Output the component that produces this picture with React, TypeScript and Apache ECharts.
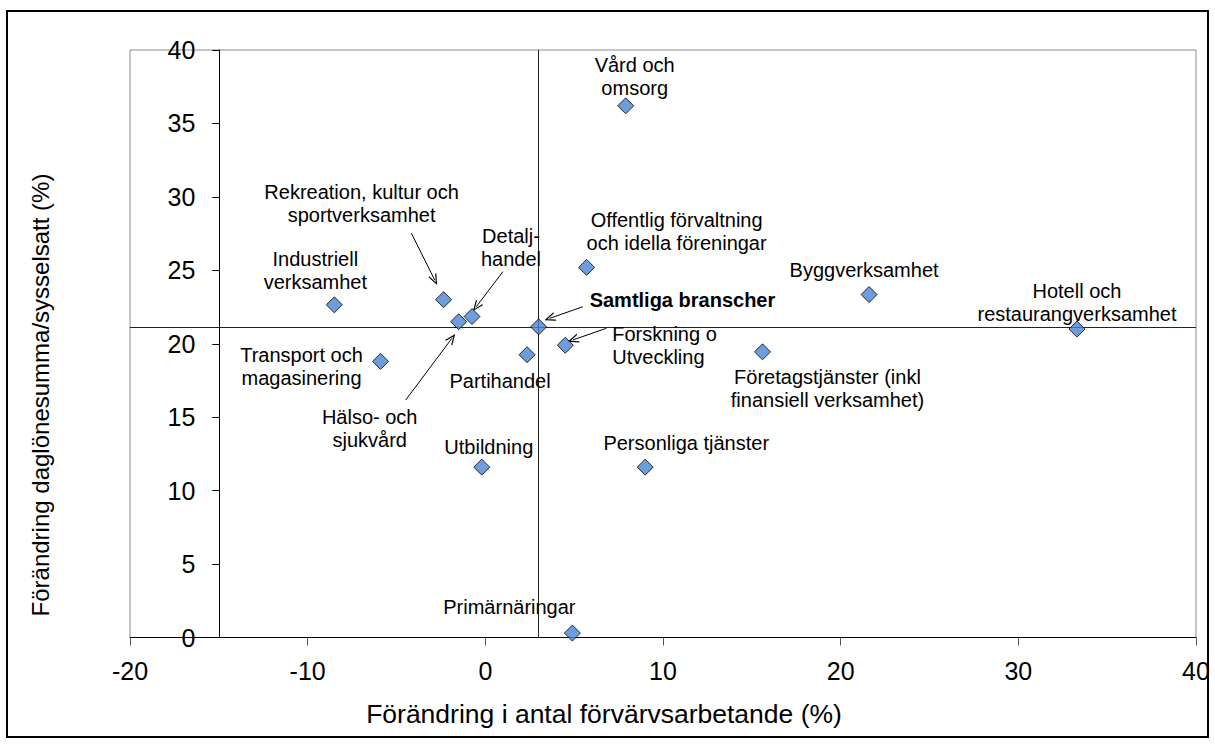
import React, { useEffect, useRef } from 'react';
import * as echarts from 'echarts';

// Branch names (label text), x = change in number employed (%), y = change in wage sum per employee (%)
const branches = [
  'Vård och\nomsorg',
  'Offentlig förvaltning\noch idella föreningar',
  'Samtliga branscher',
  'Forskning o\nUtveckling',
  'Byggverksamhet',
  'Hotell och\nrestaurangverksamhet',
  'Företagstjänster (inkl\nfinansiell verksamhet)',
  'Personliga tjänster',
  'Utbildning',
  'Primärnäringar',
  'Partihandel',
  'Transport och\nmagasinering',
  'Industriell\nverksamhet',
  'Rekreation, kultur och\nsportverksamhet',
  'Hälso- och\nsjukvård',
  'Detalj-\nhandel',
];
const employmentChange = [7.9, 5.7, 3.0, 4.5, 21.6, 33.3, 15.6, 9.0, -0.2, 4.9, 2.35, -5.9, -8.5, -2.35, -1.5, -0.75];
const wageChange = [36.2, 25.2, 21.15, 19.9, 23.35, 21.0, 19.45, 11.6, 11.6, 0.3, 19.25, 18.8, 22.65, 23.0, 21.5, 21.85];

// Reference lines (all branches)
const refX = 3.0;
const refY = 21.15;

// Annotation arrows in data coordinates: [fromX, fromY, toX, toY]
const arrows = [
  [-4.16, 27.52, -2.85, 24.34], // Rekreation
  [0.99, 24.91, -0.51, 22.52], // Detaljhandel
  [-4.48, 16.17, -1.88, 20.37], // Hälso- och sjukvård
  [5.49, 22.52, 3.62, 21.73], // Samtliga branscher
  [6.81, 21.05, 4.93, 20.26], // Forskning
];

// Label layout (pixel offsets from the marker), kept apart from the data
const labelLayout: { dx: number; dy: number; align?: string; bold?: boolean }[] = [
  { dx: 9, dy: -29 },
  { dx: 90, dy: -36 },
  { dx: 51, dy: -27, align: 'left', bold: true },
  { dx: 47, dy: 0, align: 'left' },
  { dx: -5, dy: -25 },
  { dx: 0, dy: -27 },
  { dx: 65, dy: 37 },
  { dx: 41, dy: -24 },
  { dx: 7, dy: -20 },
  { dx: -63, dy: -26 },
  { dx: -27, dy: 26 },
  { dx: -79, dy: 5 },
  { dx: -19, dy: -34 },
  { dx: -82, dy: -96 },
  { dx: -89, dy: 107 },
  { dx: 39, dy: -69 },
];

const FONT = "'Liberation Sans', Arial, sans-serif";
const arrowHead = 'path://M0,10 L5,0 L10,10 L8.6,10 L5,2.8 L1.4,10 Z';

export default function App() {
  const ref = useRef<HTMLDivElement>(null);
  useEffect(() => {
    if (!ref.current) return;
    const chart = echarts.init(ref.current, undefined, { renderer: 'svg' });
    const points = branches.map((name, i) => {
      const l = labelLayout[i];
      return {
        name,
        value: [employmentChange[i], wageChange[i]],
        label: {
          offset: [l.dx, l.dy],
          align: l.align || 'center',
          fontWeight: l.bold ? 'bold' : 'normal',
        },
      };
    });
    chart.setOption({
      animation: false,
      textStyle: { fontFamily: FONT },
      grid: {
        left: 130,
        right: 19,
        top: 50,
        bottom: 106.5,
        show: true,
        borderColor: '#8c8c8c',
        borderWidth: 1,
        backgroundColor: 'transparent',
      },
      xAxis: {
        type: 'value',
        min: -20,
        max: 40,
        interval: 10,
        splitLine: { show: false },
        axisLine: { show: true, lineStyle: { color: '#000', width: 1 } },
        axisTick: { show: true, length: 8, lineStyle: { color: '#555' } },
        axisLabel: { fontSize: 25, color: '#000', margin: 21, fontFamily: FONT },
      },
      yAxis: {
        type: 'value',
        min: 0,
        max: 40,
        interval: 5,
        position: 'left',
        offset: -89.3,
        splitLine: { show: false },
        axisLine: { show: true, onZero: false, lineStyle: { color: '#000', width: 1 } },
        axisTick: { show: true, length: 7, lineStyle: { color: '#000' } },
        axisLabel: { fontSize: 25, color: '#000', margin: 24, fontFamily: FONT },
      },
      graphic: [
        {
          type: 'rect',
          shape: { x: 7, y: 11, width: 1201, height: 726 },
          style: { fill: 'none', stroke: '#000', lineWidth: 2 },
          silent: true,
        },
        {
          type: 'text',
          x: 604,
          y: 714,
          style: {
            text: 'Förändring i antal förvärvsarbetande (%)',
            fontSize: 26.5,
            fontFamily: FONT,
            fill: '#000',
            align: 'center',
            verticalAlign: 'middle',
          },
        },
        {
          type: 'text',
          x: 40,
          y: 395,
          rotation: Math.PI / 2,
          style: {
            text: 'Förändring daglönesumma/sysselsatt (%)',
            fontSize: 24,
            fontFamily: FONT,
            fill: '#000',
            align: 'center',
            verticalAlign: 'middle',
          },
        },
      ],
      series: [
        {
          type: 'scatter',
          data: [],
          silent: true,
          markLine: {
            silent: true,
            symbol: ['none', 'none'],
            label: { show: false },
            lineStyle: { color: '#222', width: 1, type: 'solid' },
            emphasis: { disabled: true },
            data: [{ xAxis: refX }, { yAxis: refY }],
          },
        },
        {
          type: 'scatter',
          data: [],
          silent: true,
          markLine: {
            silent: true,
            symbol: ['none', arrowHead],
            symbolSize: [9, 11],
            label: { show: false },
            lineStyle: { color: '#000', width: 1, type: 'solid' },
            emphasis: { disabled: true },
            data: arrows.map((a) => [{ coord: [a[0], a[1]] }, { coord: [a[2], a[3]] }]),
          },
        },
        {
          type: 'scatter',
          symbol: 'diamond',
          symbolSize: 16,
          itemStyle: { color: '#4A84D2', borderColor: '#000', borderWidth: 1 },
          label: {
            show: true,
            formatter: (p: any) => p.name,
            position: 'inside',
            verticalAlign: 'middle',
            fontSize: 20,
            lineHeight: 23,
            color: '#000',
            textBorderWidth: 0,
            textBorderColor: 'transparent',
            opacity: 1,
            fontFamily: FONT,
          },
          emphasis: { disabled: true },
          data: points,
          z: 5,
        },
      ],
    });
    return () => chart.dispose();
  }, []);
  return (
    <div
      ref={ref}
      style={{ position: 'fixed', left: 0, top: 0, width: 1215, height: 744, background: '#fff' }}
    />
  );
}
